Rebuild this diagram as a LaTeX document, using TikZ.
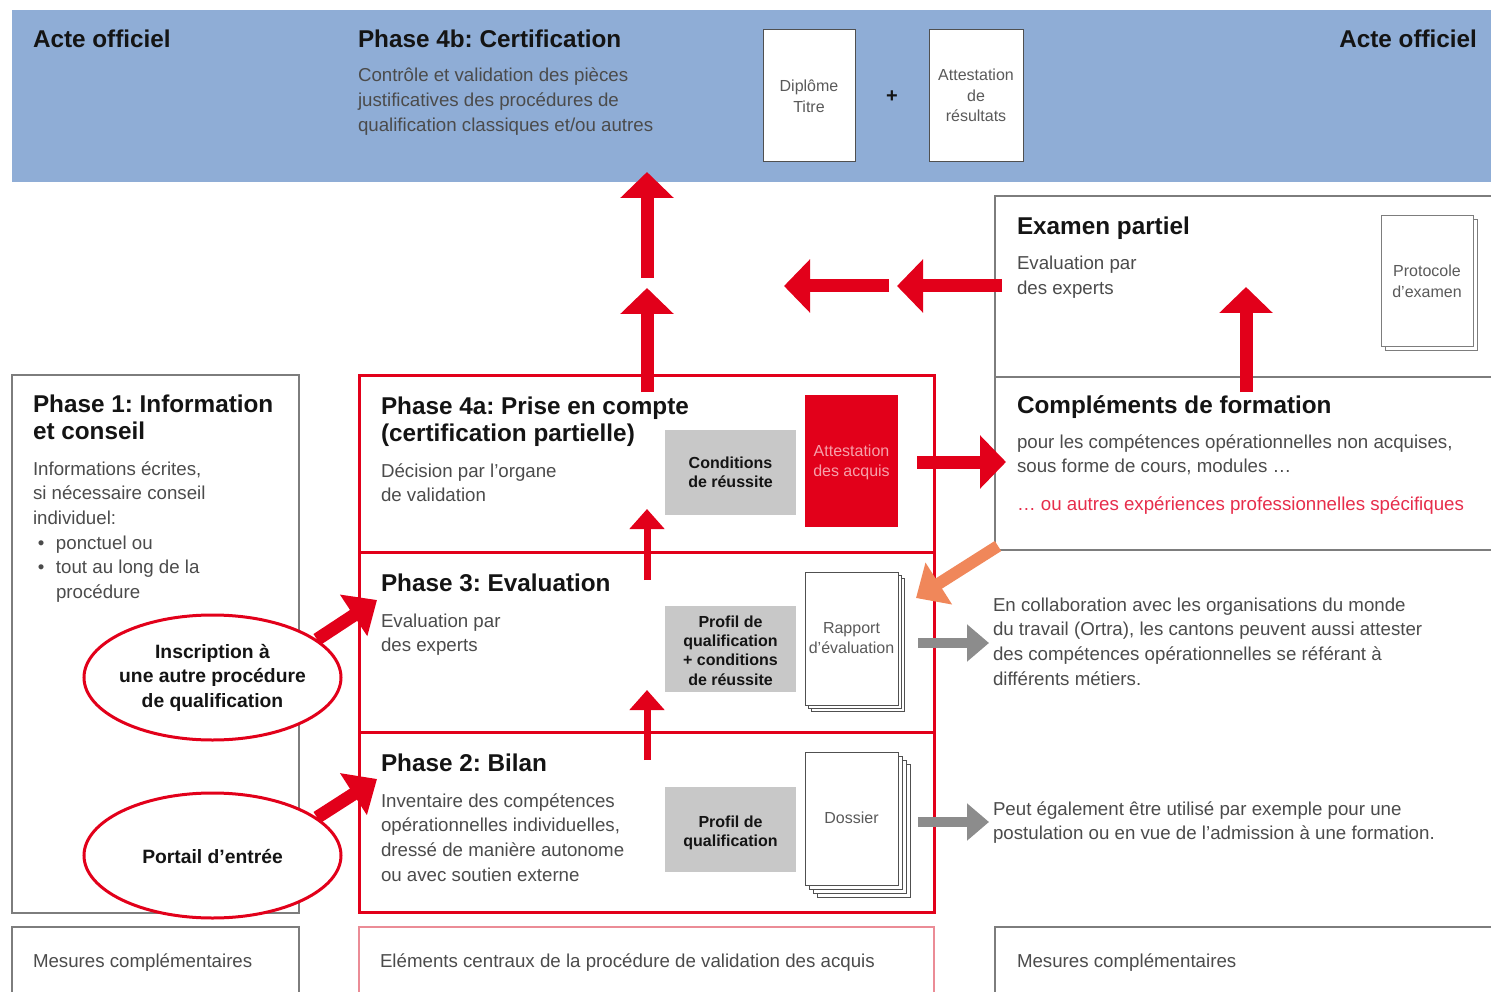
\documentclass[tikz,border=0pt]{standalone}
\usepackage{fontspec}
\setmainfont{Liberation Sans}
\usetikzlibrary{arrows.meta,shapes.geometric}
\frenchspacing
\definecolor{vred}{RGB}{226,0,26}
\definecolor{bandc}{RGB}{143,173,214}
\definecolor{gframe}{RGB}{125,125,125}
\definecolor{gfill}{RGB}{200,200,200}
\definecolor{docframe}{RGB}{80,80,80}
\definecolor{txtc}{RGB}{75,75,75}
\definecolor{ttlc}{RGB}{20,20,20}
\definecolor{doctc}{RGB}{90,90,90}
\definecolor{pinktxt}{RGB}{246,160,170}
\definecolor{redtxt}{RGB}{230,45,75}
\definecolor{orng}{RGB}{240,135,90}
\definecolor{garr}{RGB}{140,140,140}
\definecolor{pinkframe}{RGB}{235,140,150}
\newcommand\ml[1]{\begin{tabular}[t]{@{}l@{}}#1\end{tabular}}
\newcommand\mlc[1]{\begin{tabular}[t]{@{}c@{}}#1\end{tabular}}
\newcommand\bul{\makebox[23pt][l]{\hspace{5pt}\textbullet}}
\tikzset{
 ttl/.style={font=\fontsize{24.3}{27}\selectfont\bfseries, text=ttlc, inner sep=0pt, outer sep=0pt, anchor=base west},
 body/.style={font=\fontsize{18.7}{24.7}\selectfont, text=txtc, inner sep=0pt, outer sep=0pt, anchor=base west},
 doclab/.style={font=\fontsize{16}{20.3}\selectfont, text=doctc, inner sep=0pt, outer sep=0pt, anchor=base},
 glab/.style={font=\fontsize{16}{19.2}\selectfont\bfseries, text=ttlc, inner sep=0pt, outer sep=0pt, anchor=base},
 elab/.style={font=\fontsize{19.3}{24.5}\selectfont\bfseries, text=ttlc, inner sep=0pt, outer sep=0pt, anchor=base},
 frame/.style={draw=gframe, line width=1.3pt, inner sep=0pt, outer sep=0pt, anchor=north west},
 redframe/.style={draw=vred, line width=3pt, inner sep=0pt, outer sep=0pt, anchor=north west},
 docbox/.style={draw=docframe, fill=white, line width=1pt, inner sep=0pt, outer sep=0pt, anchor=north west},
 graybox/.style={fill=gfill, inner sep=0pt, outer sep=0pt, anchor=north west},
 oval/.style={ellipse, draw=vred, line width=3pt, fill=white, minimum width=257pt, minimum height=125pt, inner sep=0pt},
 bigarrow/.style={draw=vred, line width=13pt, -{Triangle[length=26pt,width=52pt]}},
 diagarrow/.style={draw=vred, line width=13pt, -{Triangle[length=28pt,width=48pt]}},
 smallarrow/.style={draw=vred, line width=7pt, -{Triangle[length=20pt,width=34pt]}},
 orarrow/.style={draw=orng, line width=12pt, -{Triangle[length=27pt,width=48pt]}},
 grarrow/.style={draw=garr, line width=10pt, -{Triangle[length=22pt,width=36pt]}},
}
\begin{document}
\begin{tikzpicture}[x=1pt,y=-1pt]
\useasboundingbox (0,0) rectangle (1491,992);
\begin{scope}
\clip (0,0) rectangle (1491,992);
% ---- top band
\node[fill=bandc, minimum width=1490pt, minimum height=172pt, inner sep=0pt, outer sep=0pt, anchor=north west] (band) at (12,10) {};
\node[ttl] (acteL) at (33,48) {Acte officiel};
\node[ttl, anchor=base east] (acteR) at (1477,48) {Acte officiel};
\node[ttl] (p4b) at (358,48) {Phase 4b: Certification};
\node[body] (p4bt) at (358,82) {\ml{Contrôle et validation des pièces\\justificatives des procédures de\\qualification classiques et/ou autres}};
\node[docbox, minimum width=92pt, minimum height=132pt] (dipl) at (763,30) {};
\node[doclab] (diplt) at (809,92) {\mlc{Diplôme\\Titre}};
\node[font=\fontsize{20}{20}\selectfont\bfseries, text=ttlc, inner sep=0pt] (plus) at (892,97) {+};
\node[docbox, minimum width=94pt, minimum height=132pt] (attr) at (929,30) {};
\node[doclab] (attrt) at (976,81) {\mlc{Attestation\\de\\résultats}};
% ---- Examen partiel
\node[frame, minimum width=520pt, minimum height=181pt] (exam) at (995,196) {};
\node[ttl] (examt) at (1017,235) {Examen partiel};
\node[body] (examb) at (1017,270) {\ml{Evaluation par\\des experts}};
\node[docbox, draw=gframe, minimum width=92pt, minimum height=130pt] (protoS) at (1385,220) {};
\node[docbox, draw=gframe, minimum width=92pt, minimum height=130pt] (proto) at (1381,216) {};
\node[doclab] (protot) at (1427,277) {\mlc{Protocole\\d’examen}};
% ---- Complements
\node[frame, minimum width=520pt, minimum height=173pt] (compl) at (995,377) {};
\node[ttl] (complt) at (1017,413) {Compléments de formation};
\node[body] (complb) at (1017,448) {\ml{pour les compétences opérationnelles non acquises,\\sous forme de cours, modules …}};
\node[body, text=redtxt] (complr) at (1017,510) {… ou autres expériences professionnelles spécifiques};
% ---- Phase 1
\node[frame, minimum width=287pt, minimum height=538pt] (p1) at (12,375) {};
\node[ttl] (p1t) at (33,412) {\ml{Phase 1: Information\\et conseil}};
\node[body] (p1b) at (33,475) {\begin{tabular}[t]{@{}l@{}l@{}}\multicolumn{2}{@{}l@{}}{Informations écrites,}\\\multicolumn{2}{@{}l@{}}{si nécessaire conseil}\\\multicolumn{2}{@{}l@{}}{individuel:}\\\bul&ponctuel ou\\\bul&tout au long de la\\&procédure\end{tabular}};
\node[oval] (ins) at (212.5,677.5) {};
\node[elab] (inst) at (212.5,658) {\mlc{Inscription à\\une autre procédure\\de qualification}};
\node[oval] (port) at (212.5,855.5) {};
\node[elab] (portt) at (212.5,863) {Portail d’entrée};
% ---- Phases 4a, 3, 2
\node[redframe, minimum width=575pt, minimum height=177pt] (p4a) at (359,375) {};
\node[redframe, minimum width=575pt, minimum height=180pt] (p3) at (359,552) {};
\node[redframe, minimum width=575pt, minimum height=180pt] (p2) at (359,732) {};
% 4a
\node[ttl] (p4at) at (381,414) {\ml{Phase 4a: Prise en compte\\(certification partielle)}};
\node[body] (p4ab) at (381,477) {\ml{Décision par l’organe\\de validation}};
\node[graybox, minimum width=131pt, minimum height=85pt] (cond) at (665,430) {};
\node[glab] (condt) at (730.5,468.5) {\mlc{Conditions\\de réussite}};
\node[fill=vred, minimum width=93pt, minimum height=132pt, anchor=north west, inner sep=0pt, outer sep=0pt] (attacq) at (805,395) {};
\node[doclab, text=pinktxt] (attacqt) at (851.5,456) {\mlc{Attestation\\des acquis}};
% 3
\node[ttl] (p3t) at (381,591) {Phase 3: Evaluation};
\node[body] (p3b) at (381,627) {\ml{Evaluation par\\des experts}};
\node[graybox, minimum width=131pt, minimum height=86pt] (prof3) at (665,606) {};
\node[glab] (prof3t) at (730.5,627.5) {\mlc{Profil de\\qualification\\+ conditions\\de réussite}};
\node[docbox, minimum width=93pt, minimum height=133pt] (rappS2) at (811,578) {};
\node[docbox, minimum width=93pt, minimum height=133pt] (rappS1) at (808,575) {};
\node[docbox, minimum width=93pt, minimum height=133pt] (rapp) at (805,572) {};
\node[doclab] (rappt) at (851.5,633) {\mlc{Rapport\\d’évaluation}};
% 2
\node[ttl] (p2t) at (381,771) {Phase 2: Bilan};
\node[body] (p2b) at (381,807) {\ml{Inventaire des compétences\\opérationnelles individuelles,\\dressé de manière autonome\\ou avec soutien externe}};
\node[graybox, minimum width=131pt, minimum height=85pt] (prof2) at (665,787) {};
\node[glab] (prof2t) at (730.5,827.5) {\mlc{Profil de\\qualification}};
\node[docbox, minimum width=93pt, minimum height=133pt] (dosS3) at (817,764) {};
\node[docbox, minimum width=93pt, minimum height=133pt] (dosS2) at (813,760) {};
\node[docbox, minimum width=93pt, minimum height=133pt] (dosS1) at (809,756) {};
\node[docbox, minimum width=93pt, minimum height=133pt] (dos) at (805,752) {};
\node[doclab] (dost) at (851.5,823) {Dossier};
% ---- right texts
\node[body] (ortra) at (993,611) {\ml{En collaboration avec les organisations du monde\\du travail (Ortra), les cantons peuvent aussi attester\\des compétences opérationnelles se référant à\\différents métiers.}};
\node[body] (peut) at (993,815) {\ml{Peut également être utilisé par exemple pour une\\postulation ou en vue de l’admission à une formation.}};
% ---- bottom row
\node[frame, minimum width=287pt, minimum height=100pt] (mes1) at (12,927) {};
\node[body] (mes1t) at (33,967) {Mesures complémentaires};
\node[draw=pinkframe, line width=1.2pt, inner sep=0pt, outer sep=0pt, anchor=north west, minimum width=575pt, minimum height=100pt] (elem) at (359,927) {};
\node[body] (elemt) at (380,967) {Eléments centraux de la procédure de validation des acquis};
\node[frame, minimum width=520pt, minimum height=100pt] (mes2) at (995,927) {};
\node[body] (mes2t) at (1017,967) {Mesures complémentaires};
% ---- arrows
\coordinate (a1s) at (647,392);
\coordinate (a1e) at (647,288);
\coordinate (a2s) at (647,278);
\coordinate (a2e) at (647,172);
\draw[bigarrow] (a1s) -- (a1e);
\draw[bigarrow] (a2s) -- (a2e);
\coordinate (l1s) at (1002,286);
\coordinate (l1e) at (897,286);
\coordinate (l2s) at (889,286);
\coordinate (l2e) at (784,286);
\draw[bigarrow] (l1s) -- (l1e);
\draw[bigarrow] (l2s) -- (l2e);
\coordinate (exs) at (1246,392);
\coordinate (exe) at (1246,287);
\draw[bigarrow] (exs) -- (exe);
\coordinate (rs) at (917,462);
\coordinate (re) at (1006,462);
\draw[bigarrow] (rs) -- (re);
\coordinate (s1s) at (647,580);
\coordinate (s1e) at (647,509);
\coordinate (s2s) at (647,760);
\coordinate (s2e) at (647,690);
\draw[smallarrow] (s1s) -- (s1e);
\draw[smallarrow] (s2s) -- (s2e);
\coordinate (d1e) at (377,600);
\coordinate (d2e) at (377,779);
\draw[diagarrow] (ins.20) -- (d1e);
\draw[diagarrow] (port.20) -- (d2e);
\coordinate (os) at (998,546);
\coordinate (oe) at (916,598);
\draw[orarrow] (os) -- (oe);
\coordinate (g1s) at (918,643);
\coordinate (g1e) at (989,643);
\coordinate (g2s) at (918,822);
\coordinate (g2e) at (989,822);
\draw[grarrow] (g1s) -- (g1e);
\draw[grarrow] (g2s) -- (g2e);
\end{scope}
\end{tikzpicture}
\end{document}
